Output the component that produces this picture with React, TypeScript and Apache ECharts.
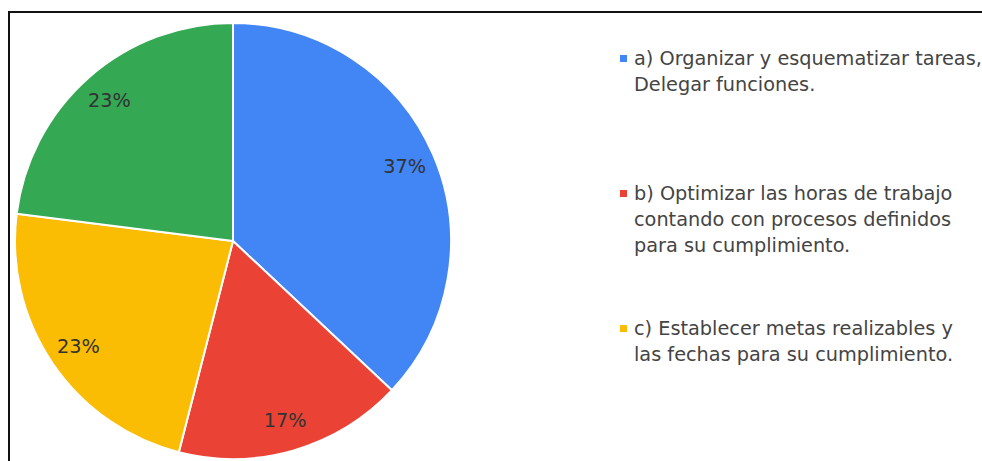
import React, { useEffect, useRef } from "react";
import * as echarts from "echarts";

const categories = ["a", "b", "c", "d"];
const legendTexts = [
  "a) Organizar y esquematizar tareas,\nDelegar funciones.",
  "b) Optimizar las horas de trabajo\ncontando con procesos definidos\npara su cumplimiento.",
  "c) Establecer metas realizables y\nlas fechas para su cumplimiento.",
];
const values = [37, 17, 23, 23];
const colors = ["#4285f4", "#ea4335", "#fbbc04", "#34a853"];

const FONT = "DejaVu Sans";
const FS = 19.3;
const LH = 26;

export default function App() {
  const ref = useRef<HTMLDivElement>(null);
  useEffect(() => {
    if (!ref.current) return;
    const chart = echarts.init(ref.current, null, { renderer: "svg" });
    const data = categories.map((c, i) => ({ name: c, value: values[i], itemStyle: { color: colors[i] } }));
    const legendTops = [19.5, 128.5, 289.5];
    const legends = legendTexts.map((t, i) => {
      const n = t.split("\n").length;
      const padded = " \n".repeat(n - 1) + t;
      return {
        data: [categories[i]],
        orient: "vertical",
        left: 620,
        top: legendTops[i],
        padding: 0,
        itemWidth: 7,
        itemHeight: 7,
        icon: "rect",
        selectedMode: false,
        itemStyle: { borderWidth: 0 },
        formatter: () => padded,
        textStyle: {
          fontFamily: FONT,
          fontSize: FS,
          lineHeight: LH,
          color: "#444",
          padding: [0, 0, 0, 2],
        },
      };
    });
    chart.setOption({
      animation: false,
      backgroundColor: "#fff",
      legend: legends,
      series: [
        {
          type: "pie",
          center: [233, 241],
          radius: [0, 218],
          startAngle: 90,
          clockwise: true,
          silent: true,
          label: { show: false },
          labelLine: { show: false },
          itemStyle: { borderColor: "#fff", borderWidth: 2 },
          data,
        },
        {
          type: "pie",
          center: [233, 241],
          radius: [164, 204],
          startAngle: 90,
          clockwise: true,
          silent: true,
          itemStyle: { color: "transparent", borderWidth: 0 },
          label: {
            show: true,
            position: "inside",
            formatter: "{c}%",
            fontFamily: FONT,
            fontSize: FS,
            color: "#333",
          },
          labelLine: { show: false },
          data: categories.map((c, i) => ({ name: c, value: values[i] })),
        },
      ],
    });
    return () => chart.dispose();
  }, []);
  return (
    <div style={{ position: "fixed", left: 0, top: 0, width: 982, height: 461, overflow: "hidden", background: "#fff" }}>
      <div ref={ref} style={{ position: "absolute", left: 0, top: 0, width: 982, height: 461 }} />
      <div
        style={{
          position: "absolute",
          left: 8,
          top: 11,
          width: 1100,
          height: 600,
          borderTop: "2px solid #111",
          borderLeft: "2px solid #111",
          pointerEvents: "none",
        }}
      />
    </div>
  );
}
